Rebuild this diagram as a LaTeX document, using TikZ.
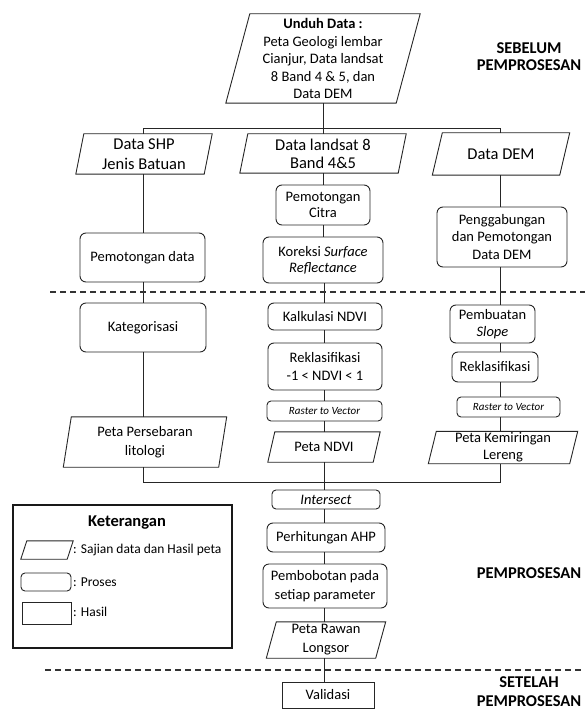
\documentclass[tikz,border=0pt]{standalone}
\usepackage{fontspec}
\setmainfont{Carlito}
\usetikzlibrary{calc}
\newcommand{\myfs}[2]{\fontsize{#1}{#2}\selectfont}
\tikzset{
  ln/.style={line width=0.9pt, draw=black!85},
  proc/.style={ln, rounded corners=6pt, inner sep=0pt, align=center, font=\myfs{14.5}{17}},
  smallproc/.style={ln, rounded corners=4pt, inner sep=0pt, align=center, font=\myfs{11}{13}\itshape},
  hasil/.style={ln, inner sep=0pt, align=center, font=\myfs{14.5}{17}},
  paratext/.style={inner sep=0pt, align=center},
  conn/.style={ln},
  dashsep/.style={line width=1.1pt, draw=black!80, dash pattern=on 6pt off 4pt},
  head/.style={font=\myfs{16.5}{17.5}\bfseries, align=center, inner sep=0pt},
  legtext/.style={font=\myfs{13.5}{16}, anchor=west, inner sep=0pt},
}
% #1 style, #2 name, #3 x, #4 y, #5 width, #6 height, #7 slant, #8 text
\newcommand{\pgram}[8][]{%
  \node[paratext, minimum width=#5pt, minimum height=#6pt, #1] (#2) at (#3,#4) {#8};
  \draw[ln] ($(#2.north west)+(#7/2,0)$) -- ($(#2.north east)+(#7/2,0)$) --
    ($(#2.south east)-(#7/2,0)$) -- ($(#2.south west)-(#7/2,0)$) -- cycle;
}
\begin{document}
\begin{tikzpicture}[x=1pt,y=-1pt]
\useasboundingbox[fill=white] (0,0) rectangle (585,711);

% column coordinates
\coordinate (xL) at (143,0);
\coordinate (xM) at (324,0);
\coordinate (xR) at (500,0);
\coordinate (busT) at (323,128);
\coordinate (busB) at (324,482);

% top
\pgram[font=\myfs{14.5}{17.5}]{top}{323}{58.5}{170}{89}{24}{\textbf{Unduh Data :}\\Peta Geologi lembar\\Cianjur, Data landsat\\8 Band 4 \& 5, dan\\Data DEM}

% data boxes
\pgram[font=\myfs{16.5}{20}]{shp}{144}{154}{128}{40}{8}{Data SHP\\Jenis Batuan}
\pgram[font=\myfs{16.5}{18}]{land}{323}{153.5}{158}{39}{8}{Data landsat 8\\Band 4\&5}
\pgram[font=\myfs{16.5}{18}]{dem}{501}{154}{127}{42}{10}{Data DEM}

% left column
\node[proc, minimum width=125pt, minimum height=49pt] (pdata) at (142.5,257.5) {Pemotongan data};
\node[proc, minimum width=126pt, minimum height=49pt] (kat) at (143,327.5) {Kategorisasi};
\pgram[font=\myfs{14.5}{19}]{lit}{145}{442}{155}{50}{8}{Peta Persebaran\\litologi}

% middle column
\node[proc, minimum width=94pt, minimum height=40pt, font=\myfs{14.5}{16}] (pcitra) at (323,205) {Pemotongan\\Citra};
\node[proc, minimum width=120pt, minimum height=46pt, font=\myfs{14.5}{16}] (kor) at (323,260) {Koreksi \textit{Surface}\\\textit{Reflectance}};
\node[proc, minimum width=114pt, minimum height=27pt] (kalk) at (325,316.5) {Kalkulasi NDVI};
\node[proc, minimum width=114pt, minimum height=47pt, font=\myfs{14.5}{18}] (rek) at (325,366.5) {Reklasifikasi\\-1 \textless{} NDVI \textless{} 1};
\node[smallproc, minimum width=115pt, minimum height=20pt] (rtv1) at (324.5,411) {Raster to Vector};
\pgram[font=\myfs{14.5}{17}]{ndvi}{324}{447}{105}{30}{7}{Peta NDVI}
\node[proc, rounded corners=4pt, minimum width=108pt, minimum height=19pt, font=\myfs{14.5}{17}\itshape] (inter) at (326,499.5) {Intersect};
\node[proc, minimum width=118pt, minimum height=29pt] (ahp) at (326,537.5) {Perhitungan AHP};
\node[proc, minimum width=124pt, minimum height=44pt, font=\myfs{14.5}{18.5}] (bobot) at (325,586) {Pembobotan pada\\setiap parameter};
\pgram[font=\myfs{14.5}{19}]{rawan}{326}{640}{109}{36}{10}{Peta Rawan\\Longsor}
\node[hasil, minimum width=92pt, minimum height=26pt] (valid) at (328,695) {Validasi};

% right column
\node[proc, minimum width=130pt, minimum height=60pt, font=\myfs{14.5}{17.5}] (gab) at (502,237) {Penggabungan\\dan Pemotongan\\Data DEM};
\node[proc, minimum width=85pt, minimum height=38pt, font=\myfs{14.5}{17}] (slope) at (492.5,324) {Pembuatan\\\textit{Slope}};
\node[proc, minimum width=86pt, minimum height=30pt] (rek2) at (495,367) {Reklasifikasi};
\node[smallproc, minimum width=103pt, minimum height=20pt] (rtv2) at (508.5,407) {Raster to Vector};
\pgram[font=\myfs{14.5}{16.5}]{ler}{503}{447.5}{141}{32}{8}{Peta Kemiringan\\Lereng}

% connectors: top
\draw[conn] (top.south) -- (land.north);
\draw[conn] (xL |- shp.north) -- (xL |- busT) -- (xR |- busT) -- (xR |- dem.north);

% left column
\draw[conn] (xL |- shp.south) -- (xL |- pdata.north);
\draw[conn] (xL |- pdata.south) -- (xL |- kat.north);
\draw[conn] (xL |- kat.south) -- (xL |- lit.north);
\draw[conn] (xL |- lit.south) -- (xL |- busB) -- (xR |- busB) -- (xR |- ler.south);

% middle column
\draw[conn] (land.south) -- (land.south |- pcitra.north);
\draw[conn] (pcitra.south) -- (pcitra.south |- kor.north);
\draw[conn] (xM |- kor.south) -- (xM |- kalk.north);
\draw[conn] (xM |- kalk.south) -- (xM |- rek.north);
\draw[conn] (xM |- rek.south) -- (xM |- rtv1.north);
\draw[conn] (xM |- rtv1.south) -- (xM |- ndvi.north);
\draw[conn] (xM |- ndvi.south) -- (xM |- inter.north);
\draw[conn] (xM |- inter.south) -- (xM |- ahp.north);
\draw[conn] (xM |- ahp.south) -- (xM |- bobot.north);
\draw[conn] (xM |- bobot.south) -- (xM |- rawan.north);
\draw[conn] (xM |- rawan.south) -- (xM |- valid.north);

% right column
\draw[conn] (xR |- dem.south) -- (xR |- gab.north);
\draw[conn] (xR |- gab.south) -- (xR |- slope.north);
\draw[conn] (xR |- slope.south) -- (xR |- rek2.north);
\draw[conn] (xR |- rek2.south) -- (xR |- rtv2.north);
\draw[conn] (xR |- rtv2.south) -- (xR |- ler.north);

% dashed separators
\coordinate (d1a) at (50,292);
\coordinate (d1b) at (585,292);
\coordinate (d2a) at (45,670);
\coordinate (d2b) at (585,670);
\draw[dashsep] (d1a) -- (d1b);
\draw[dashsep] (d2a) -- (d2b);

% headings
\node[head] (h1) at (529,56.5) {SEBELUM\\PEMPROSESAN};
\node[head] (h2) at (529,573) {PEMPROSESAN};
\node[head, font=\myfs{16.5}{19}\bfseries] (h3) at (529,692) {SETELAH\\PEMPROSESAN};

% legend
\node[draw=black!90, line width=1.8pt, minimum width=219pt, minimum height=143pt, inner sep=0pt] (leg) at (122.5,576.5) {};
\node[font=\myfs{16.5}{18}\bfseries, inner sep=0pt] (legt) at (127,523) {Keterangan};
\pgram{lp}{47}{550}{46}{18}{6}{}
\node[ln, draw, rounded corners=4pt, minimum width=50pt, minimum height=18pt, inner sep=0pt] (lr) at (46,582) {};
\node[ln, draw, minimum width=49pt, minimum height=22pt, inner sep=0pt] (lh) at (46.5,613) {};
\node[legtext] (lpt) at (73,550) {: Sajian data dan Hasil peta};
\node[legtext] (lrt) at (73,582) {: Proses};
\node[legtext] (lht) at (73,612) {: Hasil};
\end{tikzpicture}
\end{document}
